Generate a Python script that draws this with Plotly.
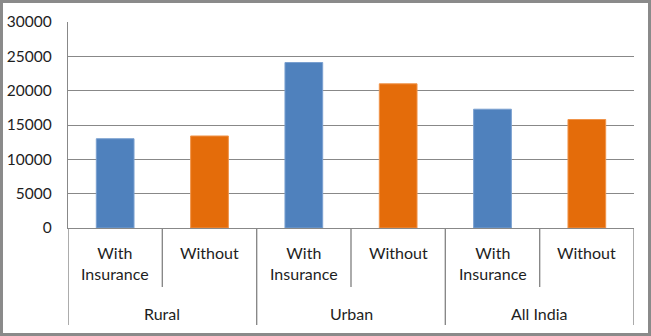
import plotly.graph_objects as go

groups = ["Rural", "Urban", "All India"]
subs = ["With<br>Insurance", "Without"]
with_ins = [13000, 24100, 17300]
without_ins = [13400, 21000, 15800]
y_ticks = [0, 5000, 10000, 15000, 20000, 25000, 30000]

W, H = 651, 336
ML, MR, MT, MB = 68, 17, 22, 108
PW, PH = W - ML - MR, H - MT - MB

def px_to_py(py):  # pixel y (from top) -> paper y
    return 1 - (py - MT) / PH

def px_to_px(px):
    return (px - ML) / PW

cats = []
vals = []
colors = []
lines = []
for g, a, b in zip(groups, with_ins, without_ins):
    cats += [g + "|with", g + "|without"]
    vals += [a, b]
    colors += ["#4F81BD", "#E46C0A"]
    lines += ["#7aa0d0", "#f0944a"]

fig = go.Figure(go.Bar(
    x=list(range(len(cats))), y=vals,
    marker=dict(color=colors, line=dict(color=lines, width=1)),
    width=0.4,
))

text_font = dict(family="Lato, Carlito, sans-serif", size=16, color="#1e1e1e")
tick_font = dict(family="Lato, Carlito, sans-serif", size=15.5, color="#1e1e1e")
grid_col = "#888888"

shapes = []
annotations = []
n = len(cats)
# dividers
for i in range(n + 1):
    xb = i - 0.5
    if i % 2 == 0:
        y1 = px_to_py(325)
    else:
        y1 = px_to_py(287)
    shapes.append(dict(type="line", xref="x", yref="paper", x0=xb, x1=xb,
                       y0=0, y1=y1, line=dict(color=grid_col, width=1.4)))
# labels
for gi, g in enumerate(groups):
    for si, s in enumerate(subs):
        idx = gi * 2 + si
        annotations.append(dict(x=idx, xref="x", y=px_to_py(241), yref="paper",
                                yanchor="top", xanchor="center", text=s,
                                showarrow=False, font=text_font, align="center"))
    annotations.append(dict(x=gi * 2 + 0.5, xref="x", y=px_to_py(313), yref="paper",
                            yanchor="middle", xanchor="center", text=g,
                            showarrow=False, font=text_font))
# outer border
shapes.append(dict(type="rect", xref="paper", yref="paper",
                   x0=px_to_px(1.5), x1=px_to_px(W - 1.5),
                   y0=px_to_py(H - 1.5), y1=px_to_py(1.5),
                   line=dict(color="#8a8a8a", width=3)))

fig.update_layout(
    width=W, height=H,
    margin=dict(l=ML, r=MR, t=MT, b=MB, autoexpand=False),
    plot_bgcolor="white", paper_bgcolor="white",
    showlegend=False,
    bargap=0.6,
    shapes=shapes,
    annotations=annotations,
    xaxis=dict(range=[-0.5, n - 0.5], showticklabels=False, showgrid=False,
               zeroline=False, showline=True, linecolor=grid_col, linewidth=1.4,
               fixedrange=True, automargin=False),
    yaxis=dict(range=[0, 30000], tickvals=y_ticks, ticktext=[str(v) for v in y_ticks],
               showgrid=True, gridcolor=grid_col, gridwidth=1.4,
               zeroline=False, showline=True, linecolor=grid_col, linewidth=1.4,
               ticks="", ticklabelstandoff=12, tickfont=tick_font, automargin=False),
)

fig.write_html("out.html")
